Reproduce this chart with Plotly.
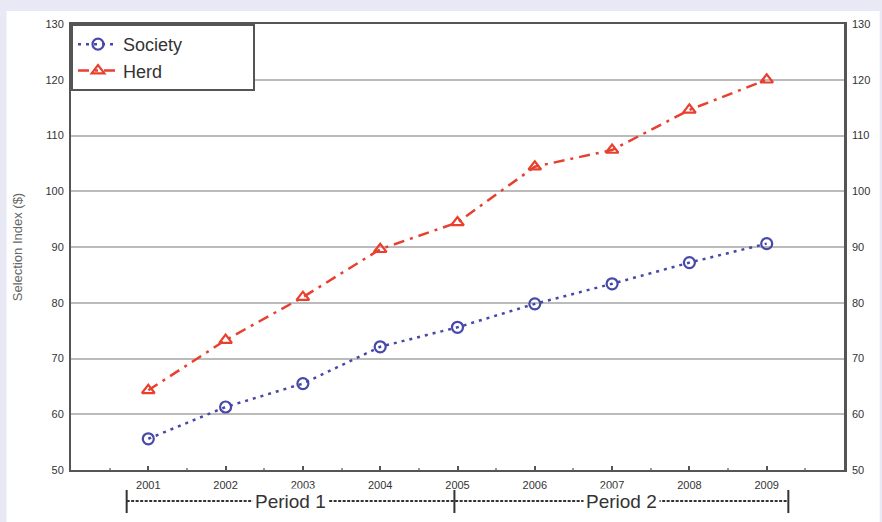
import plotly.graph_objects as go

years = [2001, 2002, 2003, 2004, 2005, 2006, 2007, 2008, 2009]
society = [55.6, 61.3, 65.5, 72.1, 75.6, 79.8, 83.4, 87.2, 90.6]
herd = [64.3, 73.3, 81.0, 89.6, 94.4, 104.4, 107.4, 114.6, 120.0]
y_ticks = [50, 60, 70, 80, 90, 100, 110, 120, 130]
period_labels = ["Period 1", "Period 2"]
period_bounds = [2000.72, 2004.96, 2009.28]
series_names = ["Society", "Herd"]

W, H = 882, 522
L, R, T, B = 71, 31, 24, 52
pw, ph = W - L - R, H - T - B

def px_x(p):
    return (p - L) / pw

def px_y(p):
    return (H - B - p) / ph

BLUE = "#4848a8"
RED = "#e8402e"
AX = "#555555"
PAD = "\u00a0" * 13

fig = go.Figure()
fig.add_trace(go.Scatter(
    x=years, y=society, name=series_names[0] + PAD, mode="lines+markers",
    line=dict(color=BLUE, width=2.5, dash="3px,5px"),
    marker=dict(symbol="circle-open", size=11, color=BLUE, line=dict(width=2.2)),
))
fig.add_trace(go.Scatter(
    x=years, y=herd, name=series_names[1], mode="lines+markers",
    line=dict(color=RED, width=2.5, dash="11px,6px,3px,6px"),
    marker=dict(symbol="triangle-up-open", size=11, color=RED, line=dict(width=2.2)),
))
# invisible trace to activate right axis
fig.add_trace(go.Scatter(x=years, y=society, yaxis="y2", mode="lines",
                         line=dict(width=0), opacity=0, showlegend=False,
                         hoverinfo="skip"))

shapes = [
    dict(type="rect", xref="paper", yref="paper", x0=px_x(6), x1=px_x(W + 5),
         y0=px_y(H + 5), y1=px_y(11), fillcolor="white", line=dict(width=0),
         layer="below"),
]
y_bar0, y_bar1, y_line = px_y(490), px_y(513), px_y(501)
for b in period_bounds:
    shapes.append(dict(type="line", xref="x", yref="paper", x0=b, x1=b,
                       y0=y_bar0, y1=y_bar1, line=dict(color="#333", width=2)))
shapes.append(dict(type="line", xref="x", yref="paper", x0=period_bounds[0],
                   x1=period_bounds[-1], y0=y_line, y1=y_line,
                   line=dict(color="#333", width=1.8, dash="3px,1.5px")))

annotations = []
for i, lab in enumerate(period_labels):
    cx = (period_bounds[i] + period_bounds[i + 1]) / 2
    annotations.append(dict(x=cx, xref="x", y=y_line, yref="paper", text=lab,
                            showarrow=False, bgcolor="white",
                            xanchor="center", yanchor="middle",
                            font=dict(size=19, color="#333", family="Arial"),
                            borderpad=2))

fig.update_layout(
    width=W, height=H,
    margin=dict(l=L, r=R, t=T, b=B),
    paper_bgcolor="#e9e9f5",
    plot_bgcolor="white",
    font=dict(family="Arial", size=11, color="#333"),
    shapes=shapes,
    annotations=annotations,
    showlegend=True,
    legend=dict(x=0, y=1, xanchor="left", yanchor="top",
                bgcolor="white", bordercolor=AX, borderwidth=2,
                font=dict(size=18, color="#333"),
                itemwidth=40, tracegroupgap=0),
    xaxis=dict(range=[2000, 2010], tickvals=years, ticktext=[str(y) for y in years],
               showgrid=False, zeroline=False, showline=True, linecolor=AX,
               linewidth=2, mirror=True, ticks="inside", ticklen=4,
               tickcolor=AX, tickwidth=1.5, ticklabelstandoff=4,
               minor=dict(tickvals=[y - 0.5 for y in years] + [2009.5],
                          ticks="inside", ticklen=2, tickcolor="#999"),
               tickfont=dict(size=11, color="#333")),
    yaxis=dict(range=[50, 130], tickvals=y_ticks, showgrid=True,
               gridcolor="#bbbbbb", gridwidth=2, zeroline=False,
               showline=True, linecolor=AX, linewidth=2, ticks="",
               ticklabelstandoff=3,
               title=dict(text="Selection Index ($)", standoff=20,
                          font=dict(size=13, color="#666")),
               tickfont=dict(size=11, color="#333")),
    yaxis2=dict(range=[50, 130], tickvals=y_ticks, overlaying="y", side="right",
                showgrid=False, zeroline=False, showline=True, linecolor=AX,
                linewidth=2.5, ticks="", ticklabelstandoff=3,
                tickfont=dict(size=11, color="#333")),
)

fig.write_html("out.html", config={"displayModeBar": False},
               post_script="document.body.style.margin='0';")
